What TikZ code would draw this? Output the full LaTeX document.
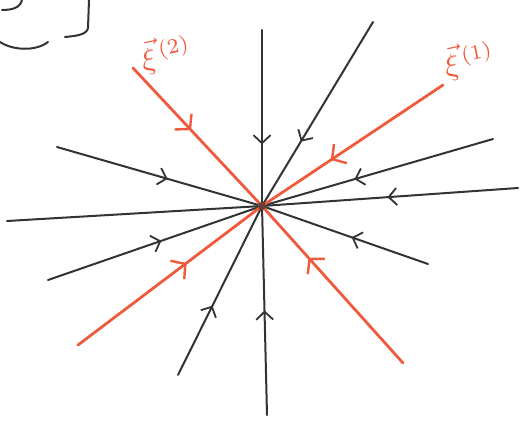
\documentclass[tikz,border=0pt]{standalone}
\usepackage{amsmath,amssymb}
\usetikzlibrary{arrows.meta,decorations.markings}
\definecolor{Ink}{HTML}{333333}
\definecolor{RedInk}{HTML}{F05A3C}

\tikzset{
  flow/.style={draw=Ink, line width=2pt, line cap=round,
    postaction={decorate, decoration={markings,
      mark=at position #1 with {\arrow{Straight Barb[length=8pt,width=17pt,line width=1.8pt]}}}}},
  eigen/.style={draw=RedInk, line width=2.8pt, line cap=round,
    postaction={decorate, decoration={markings,
      mark=at position #1 with {\arrow[RedInk]{Straight Barb[length=10pt,width=23pt,line width=2.4pt]}}}}},
  plain/.style={draw=Ink, line width=2pt, line cap=round},
  eiglabel/.style={text=RedInk, scale=3, inner sep=0pt}
}

\begin{document}
\begin{tikzpicture}[x=1pt, y=-1pt]
    \useasboundingbox (0,0) rectangle (523,423);
    \coordinate (o) at (262,206);
    % outer ends of the trajectories
    \coordinate (top) at (262,30);
    \coordinate (bottom) at (267,415);
    \coordinate (nne) at (373,22);
    \coordinate (ene) at (493,139);
    \coordinate (east) at (518,188);
    \coordinate (west) at (7,221);
    \coordinate (ese) at (428,264);
    \coordinate (ssw) at (178,375);
    \coordinate (wsw) at (48,280);
    \coordinate (wnw) at (57,147);
    \coordinate (xi1end) at (443,85);
    \coordinate (xi2end) at (133,68);
    \coordinate (swend) at (78,345);
    \coordinate (seend) at (403,363);

    \draw[flow=0.65] (top) -- (o);
    \draw[flow=0.5] (bottom) -- (o);
    \draw[flow=0.65] (nne) -- (o);
    \draw[flow=0.6] (ene) -- (o);
    \draw[flow=0.51] (east) -- (o);
    \draw[plain] (west) -- (o);
    \draw[flow=0.46] (ese) -- (o);
    \draw[flow=0.41] (ssw) -- (o);
    \draw[flow=0.53] (wsw) -- (o);
    \draw[flow=0.54] (wnw) -- (o);

    \draw[eigen=0.62] (xi1end) -- (o);
    \draw[eigen=0.45] (xi2end) -- (o);
    \draw[eigen=0.59] (swend) -- (o);
    \draw[eigen=0.67] (seend) -- (o);
    \fill[Ink!70!RedInk] (o) circle (4pt);

    \node[eiglabel, rotate=12] (xi2) at (166,54) {$\vec{\xi}^{\,(2)}$};
    \node[eiglabel, rotate=12] (xi1) at (469,60) {$\vec{\xi}^{\,(1)}$};

    % scraps of an earlier sketch
    \draw[plain] (2,10) .. controls (12,10) and (20,8) .. (22,0);
    \draw[plain] (0,42) .. controls (12,50) and (35,52) .. (48,42);
    \draw[plain] (89,0) -- (88,28) .. controls (87,35) and (75,36) .. (65,37);
\end{tikzpicture}
\end{document}
